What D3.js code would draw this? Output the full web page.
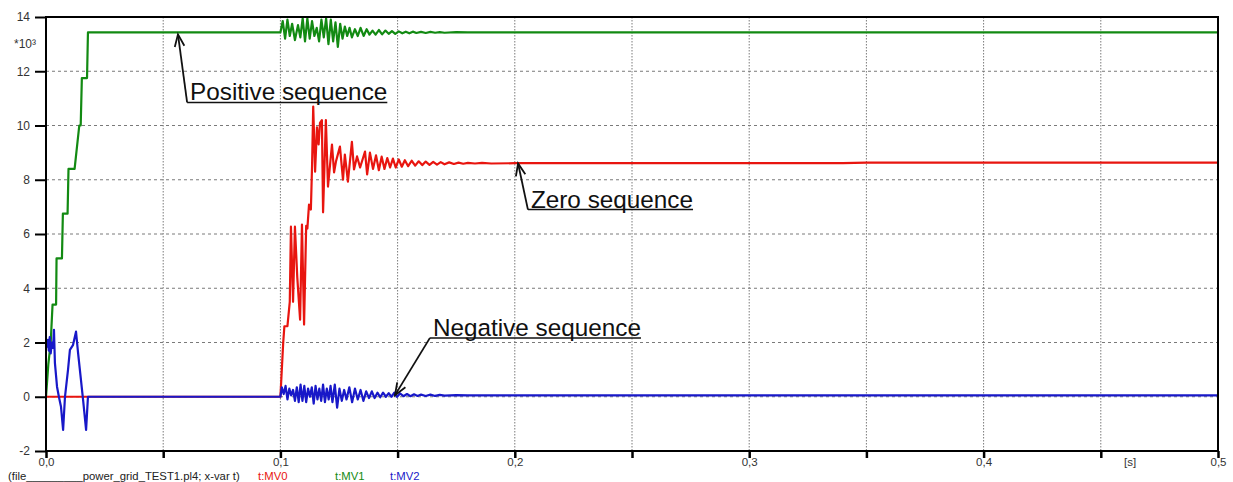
<!DOCTYPE html>
<html>
<head>
<meta charset="utf-8">
<script src="https://cdn.jsdelivr.net/npm/d3@7"></script>
<style>
  html, body { margin: 0; padding: 0; background: #fff; }
  svg { display: block; }
  text { font-family: "Liberation Sans", Arial, sans-serif; }
</style>
</head>
<body>
<div id="chart"></div>
<script>
// ---------- data ----------
const xTicks = [0, 0.05, 0.1, 0.15, 0.2, 0.25, 0.3, 0.35, 0.4, 0.45, 0.5];
const xTickLabels = ["0,0", "", "0,1", "", "0,2", "", "0,3", "", "0,4", "", "0,5"];
const yTicks = [-2, 0, 2, 4, 6, 8, 10, 12, 14];
const yTickLabels = ["-2", "0", "2", "4", "6", "8", "10", "12", "14"];
const yScaleNote = "*10³";
const xUnit = "[s]";
const fileLabel = "(file_________power_grid_TEST1.pl4; x-var t)";
const seriesNames = ["t:MV0", "t:MV1", "t:MV2"];

// MV1 – positive sequence (green), [t, value*1e3]
const mv1 = [
  [0, 0], [0.001, 1.2], [0.002, 2.0], [0.0028, 3.4], [0.0043, 3.4], [0.0045, 5.1],
  [0.0068, 5.1], [0.0072, 6.75], [0.0092, 6.75], [0.0096, 8.4], [0.0122, 8.4],
  [0.0142, 10.0], [0.0148, 10.0], [0.0153, 11.75], [0.0175, 11.75], [0.0179, 13.43],
  [0.1, 13.43], [0.101, 13.85], [0.102, 13.2], [0.103, 13.9], [0.104, 13.3], [0.105, 13.75],
  [0.1062, 13.15], [0.1075, 13.7], [0.1085, 13.25], [0.1095, 13.95], [0.1105, 13.1],
  [0.1115, 13.95], [0.1125, 13.2], [0.1135, 13.85], [0.1145, 13.3], [0.1155, 13.6],
  [0.1165, 13.1], [0.1175, 13.9], [0.1185, 13.25], [0.1195, 13.95], [0.1205, 13.0],
  [0.1215, 13.9], [0.1225, 13.1], [0.1235, 13.8], [0.1245, 12.9], [0.1255, 13.75],
  [0.1265, 13.2], [0.1275, 13.65], [0.1285, 13.3], [0.1295, 13.6], [0.1305, 13.25],
  [0.1318, 13.55], [0.133, 13.3], [0.1342, 13.6], [0.1355, 13.3], [0.1368, 13.55],
  [0.138, 13.35], [0.1393, 13.5], [0.1406, 13.35], [0.142, 13.52], [0.1434, 13.36],
  [0.1448, 13.5], [0.1462, 13.38], [0.1476, 13.48], [0.149, 13.38], [0.1505, 13.47],
  [0.152, 13.4], [0.1535, 13.46], [0.155, 13.4], [0.1565, 13.46], [0.158, 13.41],
  [0.16, 13.45], [0.162, 13.41], [0.164, 13.45], [0.166, 13.42], [0.168, 13.44],
  [0.17, 13.42], [0.175, 13.44], [0.18, 13.43], [0.5, 13.43]
];

// MV0 – zero sequence (red)
const mv0 = [
  [0, 0], [0.1, 0], [0.1003, 0.5], [0.1012, 2.0], [0.1017, 2.6], [0.103, 2.6],
  [0.104, 3.5], [0.1045, 6.27], [0.1054, 3.5], [0.1062, 6.27], [0.1072, 4.4],
  [0.1084, 2.84], [0.1092, 6.35], [0.1101, 2.66], [0.111, 6.3], [0.1115, 6.2],
  [0.1122, 7.08], [0.113, 6.9], [0.1135, 8.49], [0.114, 10.7], [0.1148, 8.3],
  [0.1156, 9.93], [0.1163, 9.3], [0.1169, 10.1], [0.1177, 10.2], [0.1182, 6.8],
  [0.1194, 10.2], [0.1203, 7.75], [0.122, 9.3], [0.1229, 8.27], [0.1237, 8.67],
  [0.1254, 9.22], [0.1267, 8.0], [0.1275, 8.93], [0.1288, 7.93], [0.1305, 9.4],
  [0.1314, 8.38], [0.1327, 8.86], [0.134, 8.45], [0.1361, 9.04], [0.137, 8.2],
  [0.1382, 9.0], [0.1395, 8.4], [0.1408, 8.9], [0.142, 8.35], [0.1432, 8.85],
  [0.1444, 8.4], [0.1456, 8.8], [0.1468, 8.45], [0.148, 8.78], [0.1492, 8.45],
  [0.1505, 8.75], [0.1518, 8.48], [0.1531, 8.72], [0.1545, 8.5], [0.156, 8.7],
  [0.1575, 8.52], [0.159, 8.68], [0.1605, 8.54], [0.162, 8.67], [0.1636, 8.55],
  [0.1652, 8.66], [0.1668, 8.56], [0.1684, 8.65], [0.17, 8.57], [0.172, 8.64],
  [0.174, 8.58], [0.176, 8.63], [0.178, 8.59], [0.18, 8.62], [0.183, 8.6],
  [0.186, 8.62], [0.19, 8.6], [0.2, 8.61], [0.34, 8.61], [0.35, 8.63], [0.5, 8.63]
];

// MV2 – negative sequence (blue)
const mv2 = [
  [0, 1.9], [0.0004, 1.85], [0.0008, 2.1], [0.0012, 1.7], [0.0016, 2.2], [0.002, 1.6],
  [0.0025, 2.0], [0.003, 1.8], [0.0034, 2.47], [0.0038, 1.25], [0.0047, 0.37],
  [0.0055, 0], [0.0064, -0.37], [0.0073, -1.22], [0.0081, 0], [0.0094, 1.0],
  [0.0102, 1.73], [0.0115, 1.9], [0.0128, 2.4], [0.0137, 1.6], [0.0149, 0.63],
  [0.0158, -0.1], [0.0171, -1.22], [0.0179, 0], [0.1, 0],
  [0.1006, 0.35], [0.1014, 0.1], [0.1022, 0.4], [0.103, -0.1], [0.1038, 0.3],
  [0.1046, 0.05], [0.1054, 0.25], [0.1062, -0.15], [0.107, 0.35], [0.1078, -0.2],
  [0.1086, 0.45], [0.1094, -0.15], [0.1102, 0.4], [0.111, -0.2], [0.1118, 0.3],
  [0.1126, 0.0], [0.1134, 0.35], [0.1142, -0.25], [0.115, 0.4], [0.1158, -0.1],
  [0.1166, 0.3], [0.1174, -0.15], [0.1182, 0.45], [0.119, -0.2], [0.1198, 0.3],
  [0.1206, -0.1], [0.1214, 0.4], [0.1222, -0.2], [0.1232, 0.45], [0.1242, -0.4],
  [0.1252, 0.3], [0.1262, -0.15], [0.1272, 0.25], [0.1282, -0.1], [0.1294, 0.35],
  [0.1306, -0.2], [0.1318, 0.3], [0.133, -0.1], [0.1342, 0.25], [0.1354, -0.15],
  [0.1366, 0.2], [0.1378, -0.05], [0.139, 0.2], [0.1402, -0.05], [0.1414, 0.15],
  [0.1426, -0.02], [0.1438, 0.15], [0.145, 0.0], [0.1462, 0.13], [0.1474, 0.0],
  [0.1486, 0.15], [0.1498, 0.0], [0.151, 0.12], [0.1525, 0.02], [0.154, 0.1],
  [0.1555, 0.02], [0.157, 0.09], [0.1585, 0.03], [0.16, 0.08], [0.162, 0.03],
  [0.164, 0.08], [0.166, 0.03], [0.168, 0.07], [0.17, 0.04], [0.175, 0.06],
  [0.18, 0.05], [0.5, 0.05]
];

// annotations: text, arrow tip [t, v], arrow tail [t, v]
const annotations = [
  { text: "Positive sequence", tip: [0.0563, 13.36], tail: [0.0602, 10.85] },
  { text: "Zero sequence",     tip: [0.2014, 8.60],  tail: [0.2056, 6.90] },
  { text: "Negative sequence", tip: [0.1489, 0.06],  tail: [0.1638, 2.17] }
];

// ---------- layout ----------
const W = 1233, H = 482;
const mLeft = 46, mRight = 1218, mTop = 17, mBottom = 451;

const svg = d3.select("#chart").append("svg").attr("width", W).attr("height", H);

const x = d3.scaleLinear().domain([0, 0.5]).range([mLeft, mRight]);
const y = d3.scaleLinear().domain([-2, 14]).range([mBottom, mTop]);

// grid
const grid = svg.append("g");
grid.selectAll("line.v").data(xTicks.filter(t => t > 0 && t < 0.5)).join("line")
  .attr("x1", d => x(d)).attr("x2", d => x(d)).attr("y1", mTop).attr("y2", mBottom)
  .attr("stroke", "#7a7a7a").attr("stroke-width", 1).attr("stroke-dasharray", "1.5,1.5");
grid.selectAll("line.h").data(yTicks.filter(v => v > -2 && v < 14)).join("line")
  .attr("x1", mLeft).attr("x2", mRight).attr("y1", d => y(d)).attr("y2", d => y(d))
  .attr("stroke", "#7a7a7a").attr("stroke-width", 1).attr("stroke-dasharray", "3,3");

// series
const line = d3.line().x(d => x(d[0])).y(d => y(d[1]));
const colors = { mv0: "#e8150f", mv1: "#128a12", mv2: "#1818c8" };
svg.append("path").datum(mv1).attr("d", line).attr("fill", "none")
  .attr("stroke", colors.mv1).attr("stroke-width", 2.2).attr("stroke-linejoin", "round");
svg.append("path").datum(mv0).attr("d", line).attr("fill", "none")
  .attr("stroke", colors.mv0).attr("stroke-width", 2.2).attr("stroke-linejoin", "round");
svg.append("path").datum(mv2).attr("d", line).attr("fill", "none")
  .attr("stroke", colors.mv2).attr("stroke-width", 2.2).attr("stroke-linejoin", "round");

// frame
svg.append("path")
  .attr("d", `M${mLeft},${mBottom}V${mTop}H${mRight}V${mBottom}Z`)
  .attr("fill", "none").attr("stroke", "#000").attr("stroke-width", 2);

// axes
const yAxis = d3.axisLeft(y).tickValues(yTicks).tickSize(11).tickPadding(5)
  .tickFormat((d, i) => yTickLabels[i]);
const gy = svg.append("g").attr("transform", `translate(${mLeft},0)`).call(yAxis);
gy.select(".domain").remove();
gy.selectAll(".tick line").attr("stroke", "#000").attr("stroke-width", 2);
gy.selectAll(".tick text").attr("font-size", 12).attr("fill", "#333")
  .attr("font-family", "'Liberation Sans', Arial, sans-serif");

const xAxis = d3.axisBottom(x).tickValues(xTicks).tickSize(7).tickPadding(0)
  .tickFormat((d, i) => xTickLabels[i]);
const gx = svg.append("g").attr("transform", `translate(0,${mBottom})`).call(xAxis);
gx.select(".domain").remove();
gx.selectAll(".tick line").attr("stroke", "#000").attr("stroke-width", 2.5);
gx.selectAll(".tick text").attr("font-size", 11.5).attr("fill", "#333")
  .attr("font-family", "'Liberation Sans', Arial, sans-serif");

svg.append("text").attr("x", 14).attr("y", 48).attr("font-size", 12).attr("fill", "#333")
  .text(yScaleNote);
svg.append("text").attr("x", x(0.4625)).attr("y", 466).attr("font-size", 11.5).attr("fill", "#333")
  .attr("text-anchor", "middle").text(xUnit);

// bottom legend
svg.append("text").attr("x", 8).attr("y", 480).attr("font-size", 11.3)
  .attr("fill", "#222").text(fileLabel);
const legX = [258, 335, 390];
const legColors = [colors.mv0, colors.mv1, colors.mv2];
seriesNames.forEach((n, i) => {
  svg.append("text").attr("x", legX[i]).attr("y", 480).attr("font-size", 11.3)
    .attr("fill", legColors[i]).text(n);
});

// annotations
const ann = svg.append("g");
annotations.forEach(a => {
  const tx = x(a.tail[0]), ty = y(a.tail[1]);
  const px = x(a.tip[0]), py = y(a.tip[1]);
  const t = ann.append("text").attr("x", tx + 3).attr("y", ty - 2)
    .attr("font-size", 24.3).attr("fill", "#111").text(a.text);
  const len = t.node().getComputedTextLength();
  ann.append("line").attr("x1", tx).attr("x2", tx + 3 + len).attr("y1", ty).attr("y2", ty)
    .attr("stroke", "#111").attr("stroke-width", 1.5);
  ann.append("line").attr("x1", tx).attr("y1", ty).attr("x2", px).attr("y2", py)
    .attr("stroke", "#111").attr("stroke-width", 1.8);
  const ang = Math.atan2(py - ty, px - tx);
  const hl = 13, ha = 0.38;
  const p1 = [px - hl * Math.cos(ang - ha), py - hl * Math.sin(ang - ha)];
  const p2 = [px - hl * Math.cos(ang + ha), py - hl * Math.sin(ang + ha)];
  ann.append("path").attr("d", `M${p1[0]},${p1[1]}L${px},${py}L${p2[0]},${p2[1]}`)
    .attr("fill", "none").attr("stroke", "#111").attr("stroke-width", 1.8);
});
</script>
</body>
</html>
